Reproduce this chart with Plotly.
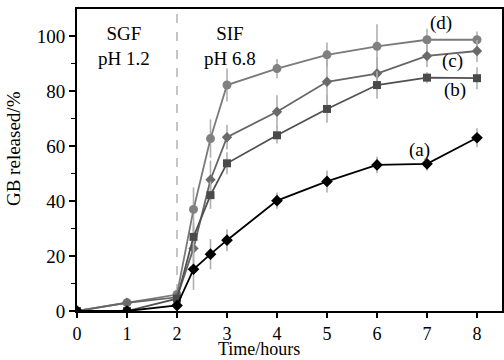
import plotly.graph_objects as go

time = [0, 1, 2, 2.33, 2.67, 3, 4, 5, 6, 7, 8]
a_vals = [0, 0, 2, 15.2, 20.7, 25.8, 40.2, 47.2, 53.2, 53.6, 63.1]
a_err = [0, 0, 1, 7.5, 5.5, 4, 3, 4, 3, 2.5, 3.5]
b_vals = [0, 0, 4.5, 27, 42.2, 53.8, 64, 73.6, 82.3, 85, 84.8]
b_err = [0, 0, 1, 5, 5, 4, 3, 5, 5, 2, 4]
c_vals = [0, 3, 5, 22.8, 47.8, 63.3, 72.6, 83.5, 86.5, 92.9, 94.7]
c_err = [0, 1.5, 1, 8, 7, 4.5, 6, 8, 6, 4, 4]
d_vals = [0, 3, 6, 37, 62.8, 82.3, 88.3, 93.3, 96.4, 98.8, 98.8]
d_err = [0, 1.5, 1, 8, 7, 6, 3.5, 4.5, 8, 4, 3]

labels = ["(a)", "(b)", "(c)", "(d)"]
label_pos = [(6.84, 58.5), (7.55, 80.5), (7.5, 91), (7.28, 104.8)]
x_title = "Time/hours"
y_title = "GB released/%"

font = "Liberation Serif"
fig = go.Figure()

series = [
    (d_vals, d_err, "circle", 9, "#808080", "#7a7a7a"),
    (c_vals, c_err, "diamond", 8, "#6a6a6a", "#666666"),
    (b_vals, b_err, "square", 8, "#4a4a4a", "#505050"),
    (a_vals, a_err, "diamond", 9, "#000000", "#000000"),
]
for vals, err, sym, sz, mc, lc in series:
    fig.add_trace(go.Scatter(
        x=time, y=vals, mode="lines+markers",
        line=dict(color=lc, width=1.8),
        marker=dict(symbol=sym, size=sz, color=mc, line=dict(width=0)),
        error_y=dict(type="data", array=err, visible=True, color="#b0b0b0",
                     thickness=1.6, width=0),
        showlegend=False,
    ))

fig.add_shape(type="line", x0=2, x1=2, y0=0, y1=110, xref="x", yref="y",
              line=dict(color="#a0a0a0", width=1.2, dash="dash"), layer="below")

for t, (x, y) in zip(labels, label_pos):
    fig.add_annotation(x=x, y=y, text=t, showarrow=False,
                       font=dict(family=font, size=19, color="#000"))

fig.add_annotation(x=0.94, y=96.5, text="SGF<br>pH 1.2", showarrow=False,
                   font=dict(family=font, size=19, color="#000"))
fig.add_annotation(x=3.05, y=96.5, text="SIF<br>pH 6.8", showarrow=False,
                   font=dict(family=font, size=19, color="#000"))

# axis titles
fig.add_annotation(xref="paper", yref="paper", x=0.428, y=0, yanchor="bottom",
                   yshift=-49, text=x_title, showarrow=False, borderpad=0,
                   font=dict(family=font, size=18, color="#000"))
fig.add_annotation(xref="paper", yref="paper", x=0, y=0.538, xanchor="right",
                   xshift=-51, textangle=-90, text=y_title, showarrow=False,
                   font=dict(family=font, size=19, color="#000"))

fig.update_layout(
    width=504, height=360,
    margin=dict(l=77, r=2, t=9, b=49),
    paper_bgcolor="white", plot_bgcolor="white",
    font=dict(family=font, size=18, color="#000"),
    xaxis=dict(range=[0, 8.5], tickmode="array", tickvals=list(range(9)),
               ticks="outside", ticklen=5, tickwidth=1.5, tickcolor="#000",
               showline=True, linecolor="#000", linewidth=1.8, mirror=True,
               showgrid=False, zeroline=False, automargin=False,
               tickfont=dict(family=font, size=18)),
    yaxis=dict(range=[0, 110], tickmode="array", tickvals=[0, 20, 40, 60, 80, 100],
               ticks="outside", ticklen=6, tickwidth=1.5, tickcolor="#000",
               minor=dict(tickvals=[10, 30, 50, 70, 90], ticks="outside",
                          ticklen=4, tickwidth=1.2, tickcolor="#000"),
               showline=True, linecolor="#000", linewidth=1.8, mirror=True,
               showgrid=False, zeroline=False, automargin=False,
               tickfont=dict(family=font, size=19)),
)

fig.write_html("out.html", config={"displayModeBar": False},
               post_script="document.body.style.margin='0';document.body.style.overflow='hidden';")
